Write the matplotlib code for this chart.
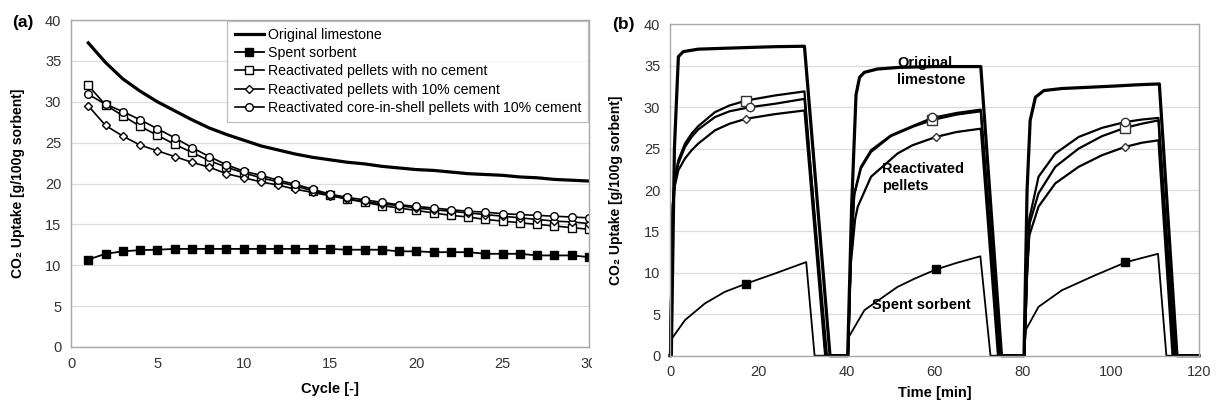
import matplotlib.pyplot as plt
from matplotlib.transforms import Bbox, TransformedBbox

plt.rcParams['font.family'] = ['Liberation Sans', 'DejaVu Sans']

# (a) uptake per cycle
cycles = list(range(1, 31))
limestone_a = [37.2, 34.8, 32.8, 31.3, 30.0, 28.9, 27.8, 26.8, 26.0, 25.3,
               24.6, 24.1, 23.6, 23.2, 22.9, 22.6, 22.4, 22.1, 21.9, 21.7,
               21.6, 21.4, 21.2, 21.1, 21.0, 20.8, 20.7, 20.5, 20.4, 20.3]
spent_a = [10.7, 11.4, 11.7, 11.85, 11.9, 12.0, 12.0, 12.0, 12.0, 12.0,
           12.0, 12.0, 12.0, 12.0, 12.0, 11.9, 11.9, 11.9, 11.7, 11.7,
           11.6, 11.6, 11.6, 11.4, 11.4, 11.4, 11.2, 11.2, 11.2, 11.0]
nocem_a = [32.0, 29.6, 28.3, 27.0, 25.9, 24.8, 23.8, 22.8, 22.0, 21.3,
           20.7, 20.2, 19.7, 19.1, 18.6, 18.1, 17.7, 17.3, 17.0, 16.7,
           16.4, 16.1, 15.9, 15.6, 15.4, 15.2, 15.0, 14.8, 14.6, 14.4]
cem10_a = [29.5, 27.1, 25.8, 24.7, 24.0, 23.3, 22.6, 22.0, 21.2, 20.7,
           20.2, 19.8, 19.3, 18.9, 18.5, 18.1, 17.8, 17.5, 17.3, 17.0,
           16.8, 16.6, 16.4, 16.2, 16.0, 15.8, 15.6, 15.4, 15.3, 15.1]
shell_a = [30.9, 29.7, 28.8, 27.8, 26.7, 25.6, 24.4, 23.3, 22.3, 21.5,
           21.0, 20.4, 19.9, 19.3, 18.7, 18.3, 18.0, 17.7, 17.4, 17.2,
           17.0, 16.8, 16.6, 16.5, 16.3, 16.2, 16.1, 16.0, 15.9, 15.8]

# (b) uptake vs time, three carbonation/calcination cycles
lime_t = [0, 0.3, 1.0, 1.9, 3.0, 6.4, 12, 17.7, 24, 30.5, 36.3,
          40.3, 41.2, 42.2, 43.0, 44.1, 47, 52, 60, 70.5, 75.2,
          80.3, 81.0, 81.7, 82.9, 84.8, 88.9, 95, 101, 106, 111.0, 115.0, 120]
lime_v = [0, 0, 25, 36.1, 36.7, 37.0, 37.1, 37.2, 37.3, 37.35, 0,
          0, 18, 31.5, 33.6, 34.2, 34.6, 34.8, 34.9, 34.9, 0,
          0, 20, 28.4, 31.2, 32.0, 32.25, 32.4, 32.55, 32.7, 32.8, 0, 0]

nocem_t = [0, 0.6, 1.1, 1.9, 3.4, 4.9, 6.4, 10.2, 13.5, 17.3, 23.7, 30.5, 35.3,
           40.4, 41.0, 41.8, 43.3, 45.6, 50.1, 55.4, 59.9, 65, 70.5, 74.6,
           80.4, 81.0, 81.6, 83.6, 87.4, 92.7, 98, 103.2, 107, 110.8, 114.3, 120]
nocem_v = [0, 18, 21.6, 23.6, 25.6, 26.8, 27.7, 29.4, 30.2, 30.8, 31.4, 31.9, 0,
           0, 12, 19.4, 22.6, 24.6, 26.5, 27.7, 28.5, 29.1, 29.5, 0,
           0, 10, 16.0, 19.6, 22.8, 25.0, 26.5, 27.5, 28.0, 28.4, 0, 0]

shell_t = [0, 0.6, 1.1, 1.9, 3.4, 4.9, 6.4, 10.2, 13.5, 18.2, 23.7, 30.5, 35.6,
           40.4, 41.0, 41.8, 43.3, 45.6, 50.1, 55.4, 59.5, 65, 70.5, 74.9,
           80.4, 81.0, 81.5, 83.6, 87.4, 92.7, 98, 103.2, 107, 110.8, 114.6, 120]
shell_v = [0, 18, 21.2, 23.2, 25.2, 26.4, 27.3, 28.8, 29.5, 30.0, 30.4, 31.0, 0,
           0, 12, 19.6, 22.8, 24.8, 26.6, 27.8, 28.7, 29.3, 29.7, 0,
           0, 10, 16.5, 21.6, 24.4, 26.4, 27.5, 28.2, 28.5, 28.7, 0, 0]

cem10_t = [0, 0.6, 1.1, 1.9, 3.4, 4.9, 6.4, 10.2, 13.5, 17.3, 23.7, 30.5, 35.2,
           40.4, 41.0, 42.0, 42.6, 45.6, 51.6, 55, 60.3, 65, 70.5, 74.4,
           80.4, 81.0, 81.5, 83.6, 87.4, 92.7, 98, 103.2, 107, 110.8, 114.0, 120]
cem10_v = [0, 17, 20.5, 22.4, 23.8, 24.8, 25.6, 27.2, 28.0, 28.6, 29.15, 29.6, 0,
           0, 11, 16.5, 18.0, 21.6, 24.4, 25.4, 26.4, 27.0, 27.4, 0,
           0, 10, 14.5, 18.0, 20.8, 22.8, 24.2, 25.2, 25.7, 26.0, 0, 0]

spent_t = [0, 0.2, 3.4, 7.9, 12.4, 17.3, 23.7, 30.9, 32.8,
           40.3, 40.6, 44.1, 51.6, 55.5, 60.3, 65, 70.4, 72.7,
           80.3, 80.7, 83.6, 88.9, 96.4, 103.5, 110.7, 112.6, 120]
spent_v = [0, 1.9, 4.3, 6.3, 7.7, 8.7, 9.9, 11.3, 0,
           0, 2.3, 5.5, 8.3, 9.3, 10.4, 11.2, 12.0, 0,
           0, 3.1, 5.9, 7.9, 9.7, 11.3, 12.3, 0, 0]

# one marker per cycle on each curve
nocem_mt, nocem_mv = [17.3, 59.5, 103.2], [30.8, 28.4, 27.5]
shell_mt, shell_mv = [18.2, 59.5, 103.2], [30.0, 28.8, 28.2]
cem10_mt, cem10_mv = [17.3, 60.3, 103.2], [28.6, 26.4, 25.2]
spent_mt, spent_mv = [17.3, 60.3, 103.3], [8.7, 10.5, 11.3]

labels = ['Original limestone', 'Spent sorbent',
          'Reactivated pellets with no cement',
          'Reactivated pellets with 10% cement',
          'Reactivated core-in-shell pellets with 10% cement']

fig = plt.figure(figsize=(12.2, 4.07), dpi=100)
ax1 = fig.add_axes([71 / 1220, 1 - 347 / 407, 518 / 1220, 327 / 407])
ax2 = fig.add_axes([670 / 1220, 1 - 355.7 / 407, 529 / 1220, 331.4 / 407])

ylab = 'CO\u2082 Uptake [g/100g sorbent]'


def style(ax):
    ax.grid(axis='y', color='#dcdcdc', lw=0.9)
    ax.set_axisbelow(True)
    for s in ax.spines.values():
        s.set_color('#a8a8a8')
        s.set_linewidth(1.0)
    ax.tick_params(length=0, labelsize=10.5, labelcolor='#333333', pad=7)
    ax.set_ylim(0, 40)
    ax.set_yticks(range(0, 41, 5))
    ax.set_ylabel(ylab, fontsize=10, fontweight='bold')
    ax.yaxis.set_label_coords(-0.088, 0.5)


# (a)
ax1.plot(cycles, limestone_a, color='black', lw=2.3, label=labels[0])
ax1.plot(cycles, spent_a, color='black', lw=1.3, marker='s', ms=5.5,
         mfc='black', label=labels[1])
ax1.plot(cycles, nocem_a, color='black', lw=1.2, marker='s', ms=6,
         mfc='white', mew=1.0, label=labels[2])
ax1.plot(cycles, cem10_a, color='black', lw=1.2, marker='D', ms=4,
         mfc='white', mew=1.0, label=labels[3])
ax1.plot(cycles, shell_a, color='black', lw=1.2, marker='o', ms=5.5,
         mfc='white', mew=1.0, label=labels[4])
style(ax1)
ax1.set_xlim(0, 30)
ax1.set_xticks(range(0, 31, 5))
ax1.set_xlabel('Cycle [-]', fontsize=10.5, fontweight='bold', labelpad=8)
leg = ax1.legend(loc='upper right', borderaxespad=0.05, fontsize=10.2,
                 frameon=True, fancybox=False, edgecolor='#b0b0b0',
                 handlelength=2.1, labelspacing=0.3, handletextpad=0.25,
                 borderpad=0.5)
leg.get_frame().set_linewidth(0.9)
fig.text(12 / 1220, 1 - 22 / 407, '(a)', fontsize=12.5, fontweight='bold',
         va='center', ha='left')

# (b)
ax2.plot(lime_t, lime_v, color='black', lw=2.3, clip_on=False)
ax2.plot(nocem_t, nocem_v, color='black', lw=1.6, clip_on=False)
ax2.plot(shell_t, shell_v, color='black', lw=1.6, clip_on=False)
ax2.plot(cem10_t, cem10_v, color='black', lw=1.6, clip_on=False)
ax2.plot(spent_t, spent_v, color='black', lw=1.3, clip_on=False)
ax2.plot(nocem_mt, nocem_mv, ls='none', marker='s', ms=6.5, mfc='white',
         mec='#333333', mew=1.0)
ax2.plot(shell_mt, shell_mv, ls='none', marker='o', ms=6, mfc='white',
         mec='#333333', mew=1.0)
ax2.plot(cem10_mt, cem10_mv, ls='none', marker='D', ms=4, mfc='white',
         mec='#333333', mew=1.0)
ax2.plot(spent_mt, spent_mv, ls='none', marker='s', ms=5.5, color='black')
style(ax2)
ax2.set_xlim(0, 120)
ax2.set_xticks(range(0, 121, 20))
ax2.set_xlabel('Time [min]', fontsize=10.5, fontweight='bold', labelpad=5)
ax2.text(51.5, 34.3, 'Original\nlimestone', fontsize=10.5, fontweight='bold',
         ha='left', va='center', linespacing=1.25)
ax2.text(48.2, 21.5, 'Reactivated\npellets', fontsize=10.5, fontweight='bold',
         ha='left', va='center', linespacing=1.25)
ax2.text(45.9, 6.1, 'Spent sorbent', fontsize=10.5, fontweight='bold',
         ha='left', va='center')
fig.text(612 / 1220, 1 - 25 / 407, '(b)', fontsize=12.5, fontweight='bold',
         va='center', ha='left')

# left panel's last tick label is cut by the right panel
fig.canvas.draw()
cut = TransformedBbox(Bbox([[0, 0], [592 / 1220, 1]]), fig.transFigure)
for lbl in ax1.get_xticklabels():
    lbl.set_clip_box(cut)
    lbl.set_clip_on(True)

fig.savefig('out.png', dpi=100)
